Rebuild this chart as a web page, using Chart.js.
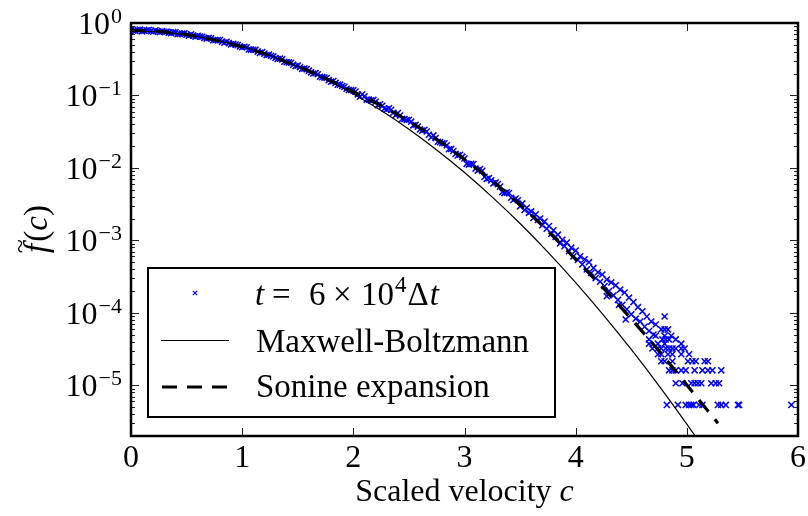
<!DOCTYPE html>
<html>
<head>
<meta charset="utf-8">
<script src="https://cdn.jsdelivr.net/npm/chart.js@4.4.0/dist/chart.umd.min.js"></script>
<style>
  html, body { margin: 0; padding: 0; background: #fff; }
  canvas { display: block; }
</style>
</head>
<body>
<canvas id="distChart" width="808" height="516"></canvas>
<script>
// simulation histogram, smooth part (c, f) - even bins
const denseC = [0.00,0.04,0.08,0.12,0.16,0.20,0.24,0.28,0.32,0.36,0.40,0.44,0.48,0.52,0.56,0.60,0.64,0.68,0.72,0.76,0.80,0.84,0.88,0.92,0.96,
  1.00,1.04,1.08,1.12,1.16,1.20,1.24,1.28,1.32,1.36,1.40,1.44,1.48,1.52,1.56,1.60,1.64,1.68,1.72,1.76,1.80,1.84,1.88,1.92,1.96,
  2.00,2.04,2.08,2.12,2.16,2.20,2.24,2.28,2.32,2.36,2.40,2.44,2.48,2.52,2.56,2.60,2.64,2.68,2.72,2.76,2.80,2.84,2.88,2.92,2.96,
  3.00,3.04,3.08,3.12,3.16,3.20,3.24,3.28,3.32,3.36,3.40,3.44,3.48];
const denseF = [0.803,0.780,0.811,0.780,0.803,0.757,0.767,0.771,0.759,0.724,0.743,0.708,0.719,0.670,0.670,0.665,0.646,0.610,0.617,0.579,0.582,0.536,0.528,0.518,0.495,
  0.462,0.462,0.430,0.427,0.387,0.378,0.366,0.346,0.319,0.315,0.288,0.283,0.254,0.245,0.235,0.220,0.201,0.196,0.179,0.174,0.155,0.149,0.141,0.132,0.119,
  0.118,0.1033,0.104,0.0877,0.0857,0.0822,0.0757,0.0661,0.0664,0.0577,0.0571,0.0476,0.0459,0.0435,0.0394,0.0339,0.0337,0.0287,0.0281,0.0230,0.0219,0.0205,0.0183,0.0156,0.0152,
  0.01352,0.01112,0.0113,0.0092,0.00912,0.00706,0.00675,0.00631,0.00553,0.0045,0.00451,0.00362,0.00358];

// odd bins of the same smooth part
const denseC2 = [0.02,0.06,0.10,0.14,0.18,0.22,0.26,0.30,0.34,0.38,0.42,0.46,0.50,0.54,0.58,0.62,0.66,0.70,0.74,0.78,0.82,0.86,0.90,0.94,0.98,
  1.02,1.06,1.10,1.14,1.18,1.22,1.26,1.30,1.34,1.38,1.42,1.46,1.50,1.54,1.58,1.62,1.66,1.70,1.74,1.78,1.82,1.86,1.90,1.94,1.98,
  2.02,2.06,2.10,2.14,2.18,2.22,2.26,2.30,2.34,2.38,2.42,2.46,2.50,2.54,2.58,2.62,2.66,2.70,2.74,2.78,2.82,2.86,2.90,2.94,2.98,
  3.02,3.06,3.10,3.14,3.18,3.22,3.26,3.30,3.34,3.38,3.42,3.46];
const denseF2 = [0.783,0.807,0.767,0.793,0.773,0.792,0.747,0.758,0.735,0.748,0.701,0.713,0.689,0.697,0.649,0.650,0.620,0.625,0.578,0.581,0.553,0.551,0.508,0.503,0.474,
  0.471,0.431,0.428,0.403,0.397,0.361,0.353,0.329,0.323,0.2915,0.286,0.266,0.2585,0.233,0.231,0.2085,0.203,0.181,0.1765,0.163,0.158,0.141,0.135,0.1236,0.119,
  0.113,0.0963,0.0970,0.0875,0.0869,0.0736,0.0720,0.0642,0.0633,0.0534,0.0529,0.0472,0.0463,0.0387,0.0372,0.0327,0.0318,0.0264,0.0258,0.0227,0.0219,0.0181,0.01715,0.0149,0.0143,
  0.0114,0.01143,0.00979,0.00965,0.00753,0.00724,0.00612,0.00599,0.00464,0.0046,0.00388,0.00378];

// noisier part of the histogram
const midC = [3.50,3.52,3.54,3.56,3.58,3.60,3.62,3.64,3.66,3.68,3.70,3.72,3.74,3.76,3.78,3.80,3.82,3.84,3.86,3.88,3.90,3.92,3.94,3.96,3.98,
  4.00,4.02,4.04,4.06,4.08,4.10,4.12,4.14,4.16,4.18,4.20,4.22,4.24,4.26,4.28,4.30,4.32,4.34,4.36,4.38,4.40,4.42,4.44,4.46,4.48,
  4.50,4.52,4.54,4.56,4.58,4.60,4.62,4.64,4.66,4.68,4.70,4.72,
  4.28,4.39,4.45,4.80];
const midF = [2.95e-3,3.24e-3,2.63e-3,2.82e-3,2.40e-3,2.51e-3,2.04e-3,2.29e-3,1.91e-3,2.00e-3,1.62e-3,1.82e-3,1.45e-3,1.58e-3,1.23e-3,1.38e-3,1.12e-3,1.20e-3,9.12e-4,1.02e-3,8.32e-4,9.33e-4,7.08e-4,7.94e-4,6.03e-4,
  7.24e-4,5.37e-4,6.03e-4,4.68e-4,5.50e-4,3.98e-4,5.01e-4,3.55e-4,4.17e-4,3.02e-4,3.63e-4,2.69e-4,3.39e-4,2.34e-4,2.88e-4,2.00e-4,2.63e-4,1.74e-4,2.40e-4,1.51e-4,2.09e-4,1.29e-4,1.91e-4,1.12e-4,1.62e-4,
  9.55e-5,1.41e-4,8.32e-5,1.20e-4,7.59e-5,1.05e-4,6.46e-5,8.91e-5,5.62e-5,7.59e-5,5.01e-5,6.92e-5,
  1.70e-4,1.29e-4,8.13e-5,8.91e-5];

// tail: few counts per bin, so values sit on discrete levels
const tailLevels = [5.37e-6, 1.07e-5, 1.61e-5, 2.15e-5, 2.69e-5, 3.22e-5, 3.76e-5, 4.30e-5, 4.83e-5, 5.91e-5];
const tailRows = [
  [4.82,4.92,4.99,5.02,5.04,5.06,5.11,5.14,5.28,5.31,5.35,5.46,5.47,5.94],
  [4.90,4.96,5.04,5.07,5.10,5.13,5.22,5.26,5.29],
  [4.84,4.87,4.90,4.95,4.99,5.07,5.14,5.19,5.23,5.31],
  [4.77,4.80,4.87,5.01,5.05,5.08,5.16,5.19],
  [4.74,4.77,4.83,4.87,4.95,5.02],
  [4.69,4.74,4.77,4.81,4.84,4.87,4.90,4.95,4.98],
  [4.66,4.74,4.80,4.95],
  [4.66,4.78,4.81,4.84,4.90],
  [4.72,4.80,4.86],
  [4.77,4.80,4.83]
];

// Maxwell-Boltzmann curve
const mbC = [0,0.25,0.5,0.75,1,1.25,1.5,1.75,2,2.25,2.5,2.75,3,3.25,3.5,3.75,4,4.25,4.5,4.75,5,5.1];
const mbF = [0.776,0.752,0.686,0.586,0.471,0.356,0.252,0.168,0.105,0.0618,0.0342,0.0177,0.00865,0.00396,0.00171,6.9e-4,2.62e-4,9.33e-5,3.13e-5,9.86e-6,2.92e-6,1.76e-6];

// Sonine expansion curve
const soC = [0,0.25,0.5,0.75,1,1.25,1.5,1.75,2,2.25,2.5,2.75,3,3.25,3.5,3.75,4,4.25,4.5,4.75,5,5.28];
const soF = [0.794,0.764,0.692,0.586,0.470,0.353,0.251,0.172,0.1127,0.0724,0.0441,0.0248,0.0131,0.00658,0.00310,0.00135,5.47e-4,2.19e-4,8.24e-5,2.98e-5,1.01e-5,3.0e-6];

const xTicks = [0, 1, 2, 3, 4, 5, 6];
const yDecades = [0, -1, -2, -3, -4, -5];

const SERIF = '"Liberation Serif", "DejaVu Serif", serif';
const BLUE = '#0000ff';

function pairs(xs, ys) {
    return xs.map((v, i) => ({ x: v, y: ys[i] }));
}

let samplePts = pairs(denseC, denseF)
    .concat(pairs(denseC2, denseF2))
    .concat(pairs(midC, midF));
tailRows.forEach((row, k) => {
    row.forEach(c => samplePts.push({ x: c, y: tailLevels[k] }));
});

// draws axes frame, ticks, labels and the legend box
const framePlugin = {
    id: 'frame',
    afterDraw(chart) {
        const ctx = chart.ctx;
        const a = chart.chartArea;
        const xs = chart.scales.x, ys = chart.scales.y;
        ctx.save();

        // ticks (inward, all four sides)
        ctx.strokeStyle = '#222';
        ctx.lineWidth = 1;
        ctx.beginPath();
        xTicks.forEach(v => {
            const px = Math.round(xs.getPixelForValue(v)) + 0.5;
            ctx.moveTo(px, a.bottom); ctx.lineTo(px, a.bottom - 8);
            ctx.moveTo(px, a.top); ctx.lineTo(px, a.top + 8);
        });
        for (let e = -6; e <= 0; e++) {
            for (let m = 1; m <= 9; m++) {
                const v = m * Math.pow(10, e);
                if (v < ys.min * 0.999 || v > ys.max * 1.001) continue;
                const py = Math.round(ys.getPixelForValue(v)) + 0.5;
                const len = m === 1 ? 8 : 4;
                ctx.moveTo(a.left, py); ctx.lineTo(a.left + len, py);
                ctx.moveTo(a.right, py); ctx.lineTo(a.right - len, py);
            }
        }
        ctx.stroke();

        // frame
        ctx.strokeStyle = '#000';
        ctx.lineWidth = 2.5;
        ctx.strokeRect(a.left, a.top, a.right - a.left, a.bottom - a.top);

        // x tick labels
        ctx.fillStyle = '#000';
        ctx.font = '32px ' + SERIF;
        ctx.textAlign = 'center';
        ctx.textBaseline = 'alphabetic';
        xTicks.forEach(v => {
            ctx.fillText(String(v), xs.getPixelForValue(v), a.bottom + 31);
        });

        // y tick labels 10^e
        yDecades.forEach(e => {
            const py = ys.getPixelForValue(Math.pow(10, e));
            const expTxt = e === 0 ? '0' : '\u2212' + (-e);
            ctx.font = '22px ' + SERIF;
            const ew = ctx.measureText(expTxt).width;
            ctx.font = '32px ' + SERIF;
            const bw = ctx.measureText('10').width;
            const right = a.left - 9;
            ctx.textAlign = 'left';
            ctx.fillText('10', right - ew - bw - 1, py + 11);
            ctx.font = '22px ' + SERIF;
            ctx.fillText(expTxt, right - ew, py);
        });

        // x axis title
        const t1 = 'Scaled velocity ';
        ctx.font = '32px ' + SERIF;
        const w1 = ctx.measureText(t1).width;
        ctx.font = 'italic 32px ' + SERIF;
        const w2 = ctx.measureText('c').width;
        const cx = (a.left + a.right) / 2;
        const sx = cx - (w1 + w2) / 2;
        ctx.textAlign = 'left';
        ctx.font = '32px ' + SERIF;
        ctx.fillText(t1, sx, 501);
        ctx.font = 'italic 32px ' + SERIF;
        ctx.fillText('c', sx + w1, 501);

        // y axis title  f~(c)
        ctx.save();
        ctx.translate(47, 229);
        ctx.rotate(-Math.PI / 2);
        ctx.font = 'italic 33px ' + SERIF;
        const fw = ctx.measureText('f').width;
        const cw = ctx.measureText('c').width;
        ctx.font = '33px ' + SERIF;
        const pw = ctx.measureText('(').width;
        const total = fw + 2 + pw * 2 + cw;
        let tx = -total / 2;
        ctx.font = 'italic 33px ' + SERIF;
        ctx.fillText('f', tx, 0);
        ctx.font = '26px ' + SERIF;
        ctx.textAlign = 'center';
        ctx.fillText('~', tx + fw / 2 + 2, -19);
        ctx.textAlign = 'left';
        tx += fw + 2;
        ctx.font = '33px ' + SERIF;
        ctx.fillText('(', tx, 0); tx += pw;
        ctx.font = 'italic 33px ' + SERIF;
        ctx.fillText('c', tx, 0); tx += cw;
        ctx.font = '33px ' + SERIF;
        ctx.fillText(')', tx, 0);
        ctx.restore();

        // legend
        const lx = 148, ly = 268, lw = 407, lh = 149;
        ctx.fillStyle = '#fff';
        ctx.fillRect(lx, ly, lw, lh);
        ctx.strokeStyle = '#000';
        ctx.lineWidth = 2;
        ctx.strokeRect(lx, ly, lw, lh);

        ctx.strokeStyle = BLUE;
        ctx.fillStyle = BLUE;
        ctx.lineWidth = 1.2;
        Chart.helpers.drawPoint(ctx, {
            pointStyle: 'crossRot', radius: 3, borderWidth: 1.2
        }, 195, 293);

        ctx.strokeStyle = '#000';
        ctx.lineWidth = 1;
        ctx.beginPath();
        ctx.moveTo(161, 340.5); ctx.lineTo(229, 340.5);
        ctx.stroke();
        ctx.lineWidth = 3.2;
        ctx.setLineDash([15, 10]);
        ctx.beginPath();
        ctx.moveTo(162, 387); ctx.lineTo(229, 387);
        ctx.stroke();
        ctx.setLineDash([]);

        ctx.fillStyle = '#000';
        ctx.textAlign = 'left';
        // row 1: t = 6 x 10^4 Δt
        const base1 = 304.5;
        ctx.font = 'italic 33px ' + SERIF;
        ctx.fillText('t', 255, base1);
        ctx.font = '33px ' + SERIF;
        ctx.fillText('=', 272, base1);
        ctx.fillText('6', 309, base1);
        ctx.fillText('\u00d7', 333, base1);
        ctx.fillText('10', 361, base1);
        let px = 361 + ctx.measureText('10').width + 1;
        ctx.font = '23px ' + SERIF;
        ctx.fillText('4', px, base1 - 13);
        px += ctx.measureText('4').width + 1;
        ctx.font = '33px ' + SERIF;
        ctx.fillText('\u0394', px, base1);
        px += ctx.measureText('\u0394').width + 1;
        ctx.font = 'italic 33px ' + SERIF;
        ctx.fillText('t', px, base1);

        ctx.font = '33px ' + SERIF;
        ctx.fillText('Maxwell-Boltzmann', 256, 351.5);
        ctx.fillText('Sonine expansion', 256, 397);

        ctx.restore();
    }
};

new Chart(document.getElementById('distChart'), {
    type: 'scatter',
    data: {
        datasets: [{
            label: 'Sonine expansion',
            data: pairs(soC, soF),
            showLine: true,
            borderColor: '#000',
            borderWidth: 3.2,
            borderDash: [15, 10],
            pointRadius: 0,
            cubicInterpolationMode: 'monotone',
            order: 1
        }, {
            label: 'Maxwell-Boltzmann',
            data: pairs(mbC, mbF),
            showLine: true,
            borderColor: '#000',
            borderWidth: 1.2,
            pointRadius: 0,
            cubicInterpolationMode: 'monotone',
            order: 2
        }, {
            label: 't = 6 \u00d7 10^4 \u0394t',
            data: samplePts,
            showLine: false,
            pointStyle: 'crossRot',
            pointRadius: 4.3,
            borderWidth: 1.5,
            borderColor: BLUE,
            backgroundColor: BLUE,
            order: 3
        }]
    },
    options: {
        responsive: false,
        animation: false,
        devicePixelRatio: 1,
        layout: {
            padding: { left: 131, right: 10, top: 23, bottom: 80 }
        },
        scales: {
            x: { type: 'linear', min: 0, max: 6, display: false },
            y: { type: 'logarithmic', min: 2e-6, max: 1, display: false }
        },
        plugins: {
            legend: { display: false },
            tooltip: { enabled: false }
        }
    },
    plugins: [framePlugin]
});
</script>
</body>
</html>
